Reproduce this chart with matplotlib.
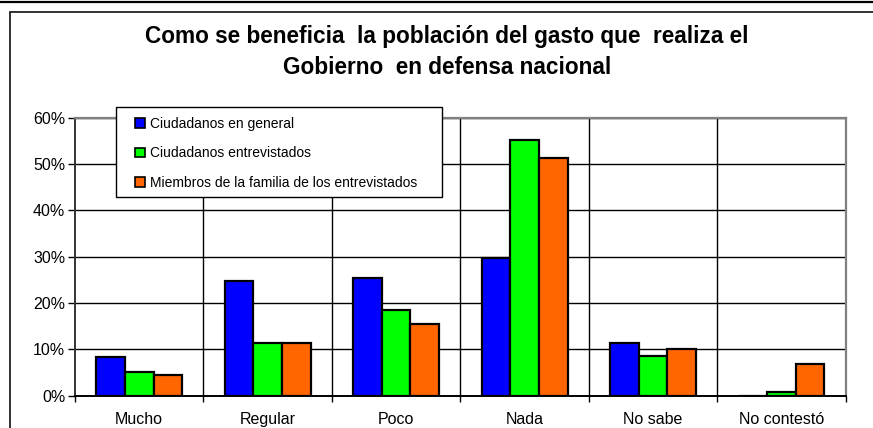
import matplotlib
matplotlib.use("Agg")
import matplotlib.pyplot as plt
import numpy as np
from matplotlib.patches import Rectangle
from matplotlib.lines import Line2D
from matplotlib.ticker import FuncFormatter

plt.rcParams['font.family'] = ['Liberation Sans', 'DejaVu Sans']

categories = ["Mucho", "Regular", "Poco", "Nada", "No sabe", "No contestó"]
series_names = ["Ciudadanos en general", "Ciudadanos entrevistados",
                "Miembros de la familia de los entrevistados"]
ciudadanos_general = [8.3, 24.8, 25.3, 29.8, 11.3, 0.0]
ciudadanos_entrevistados = [5.2, 11.3, 18.4, 55.2, 8.6, 0.7]
miembros_familia = [4.4, 11.3, 15.4, 51.3, 10.0, 6.9]
colors = ["#0000FF", "#00FF00", "#FF6600"]
title_lines = ["Como se beneficia  la población del gasto que  realiza el",
               "Gobierno  en defensa nacional"]

W, H = 873, 428
fig = plt.figure(figsize=(W / 100, H / 100), dpi=100)


def fx(px):
    return px / W


def fy(py):
    return 1 - py / H


# outer frame lines
fig.add_artist(Line2D([0, 1], [fy(1.5), fy(1.5)], color="black", lw=1.6,
                      transform=fig.transFigure))
fig.add_artist(Rectangle((fx(9.5), -0.05), 1.2, fy(11.5) + 0.05,
                         transform=fig.transFigure, fill=False,
                         edgecolor="#222222", lw=1.3))

ax = fig.add_axes([fx(75), fy(395.7), fx(845.7 - 75), (395.7 - 117.7) / H])

x = np.arange(len(categories))
bw = 0.223
all_series = [ciudadanos_general, ciudadanos_entrevistados, miembros_familia]
handles = []
for i, (vals, col, name) in enumerate(zip(all_series, colors, series_names)):
    bars = ax.bar(x + (i - 1) * bw, vals, width=bw, color=col, edgecolor="black",
                  linewidth=1.6, label=name, zorder=3)
    handles.append(bars)

ax.set_xlim(-0.5, len(categories) - 0.5)
ax.set_ylim(0, 60)
ax.set_yticks(np.arange(0, 61, 10))
ax.yaxis.set_major_formatter(FuncFormatter(lambda v, p: f"{int(v)}%"))
ax.set_xticks(np.arange(-0.5, len(categories), 1.0))
ax.set_xticklabels([])
ax.set_xticks(x, minor=True)
ax.set_xticklabels(categories, minor=True)
ax.tick_params(axis="x", which="minor", length=0, pad=12, labelsize=11.5)
ax.tick_params(axis="x", which="major", length=4, width=1, direction="out")
ax.tick_params(axis="y", length=5, width=1, direction="out", labelsize=11.5, pad=2)

ax.grid(True, axis="y", color="black", lw=1, zorder=1)
for b in np.arange(0.5, len(categories) - 1, 1.0):
    ax.axvline(b, color="black", lw=1, zorder=1)

ax.spines["left"].set_color("#333333")
ax.spines["left"].set_linewidth(1.4)
ax.spines["bottom"].set_color("black")
ax.spines["bottom"].set_linewidth(1.4)
ax.spines["top"].set_color("#808080")
ax.spines["top"].set_linewidth(1.6)
ax.spines["right"].set_color("#808080")
ax.spines["right"].set_linewidth(1.6)

# legend box and entries
fig.add_artist(Rectangle((fx(116), fy(197)), fx(442 - 116), (197 - 107) / H,
                         transform=fig.transFigure, facecolor="white",
                         edgecolor="black", lw=1.0, zorder=2))
leg = fig.legend(handles=handles, labels=series_names, loc="upper left",
                 bbox_to_anchor=(fx(135), fy(117)), fontsize=10, frameon=False,
                 handlelength=0.7, handleheight=0.7, handletextpad=0.4,
                 labelspacing=1.1, borderpad=0, borderaxespad=0)
leg.set_zorder(3)
for h in leg.legend_handles:
    h.set_linewidth(1.2)

fig.text(fx(447), fy(37), title_lines[0], ha="center", va="center",
         fontsize=16.3, fontweight="bold")
fig.text(fx(447), fy(68), title_lines[1], ha="center", va="center",
         fontsize=16.3, fontweight="bold")

fig.savefig("out.png", dpi=100)
